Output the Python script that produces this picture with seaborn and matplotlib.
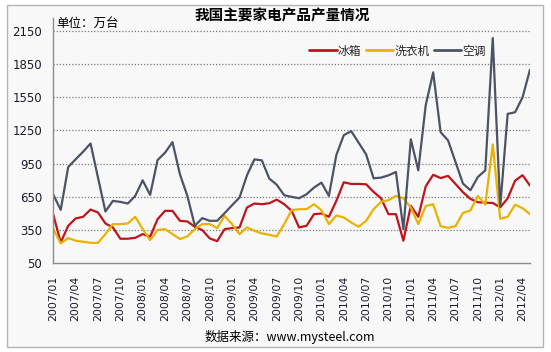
import numpy as np
import pandas as pd
import seaborn as sns
import matplotlib.pyplot as plt
from matplotlib.patches import Rectangle
from matplotlib.lines import Line2D

# monthly output, 2007/01 - 2012/05 (unit: 10k units)
fridge = [488, 239, 389, 455, 470, 536, 509, 410, 374, 272, 272, 280,
          314, 290, 449, 524, 524, 434, 428, 380, 350, 275, 250, 359,
          368, 374, 554, 590, 584, 593, 625, 584, 524, 374, 389, 494,
          500, 470, 614, 782, 767, 767, 764, 695, 638, 494, 494, 254,
          569, 470, 745, 850, 820, 840, 767, 692, 632, 602, 598, 595,
          556, 636, 797, 846, 752]
washer = [359, 230, 278, 254, 245, 235, 235, 314, 404, 404, 410, 470,
          359, 260, 350, 359, 314, 269, 293, 359, 404, 404, 368, 479,
          404, 314, 374, 344, 320, 308, 292, 404, 530, 539, 539, 584,
          530, 404, 482, 464, 419, 380, 434, 539, 605, 620, 659, 638,
          554, 404, 567, 584, 385, 370, 386, 505, 527, 658, 580, 1124,
          452, 470, 580, 548, 494]
aircon = [670, 533, 920, 990, 1058, 1133, 824, 518, 614, 605, 590, 659,
          800, 668, 983, 1049, 1145, 854, 659, 389, 458, 434, 434, 503,
          575, 644, 845, 989, 980, 815, 760, 665, 650, 638, 674, 734,
          779, 659, 1028, 1208, 1244, 1139, 1034, 818, 824, 845, 875, 359,
          1170, 890, 1478, 1775, 1235, 1160, 965, 770, 710, 830, 890, 2085,
          560, 1400, 1415, 1550, 1800]

months = [f"{2007 + i // 12}/{i % 12 + 1:02d}" for i in range(len(fridge))]
series_names = ['冰箱', '洗衣机', '空调']
colors = {'冰箱': '#c0141c', '洗衣机': '#eab200', '空调': '#4b5366'}
y_ticks = [50, 350, 650, 950, 1250, 1550, 1850, 2150]

df = pd.DataFrame({
    'idx': np.tile(np.arange(len(months)), 3),
    'value': fridge + washer + aircon,
    'name': np.repeat(series_names, len(months)),
})

sns.set_style('white')
plt.rcParams['font.family'] = ['Noto Sans CJK SC', 'DejaVu Sans']

fig = plt.figure(figsize=(5.51, 3.52), dpi=100)
fig.patch.set_facecolor('white')
fig.patches.append(Rectangle((7 / 551, 5 / 352), 536 / 551, 342 / 352,
                             transform=fig.transFigure, facecolor='#f8f8f8',
                             edgecolor='#b4b4b4', linewidth=1, zorder=-10))

ax = fig.add_axes([53.3 / 551, 1 - 263.3 / 352, (530 - 53.3) / 551, (263.3 - 18) / 352])
ax.set_facecolor('none')

sns.lineplot(data=df, x='idx', y='value', hue='name', hue_order=series_names,
             palette=colors, linewidth=1.6, ax=ax, legend=False)

ax.set_xlim(0, len(months) - 1)
ax.set_ylim(50, 2150 + (30.9 - 18) * 9.03)
ax.set_yticks(y_ticks)
ax.set_yticklabels([str(v) for v in y_ticks], fontsize=8.5, color='#1a1a2e',
                   family='DejaVu Sans')
tick_pos = list(range(0, len(months), 3))
ax.set_xticks(tick_pos)
ax.set_xticklabels([months[i] for i in tick_pos], rotation=90, fontsize=7.8,
                   color='#1a1a2e', family='DejaVu Sans')
ax.set_xlabel('')
ax.set_ylabel('')
ax.tick_params(axis='both', direction='out', length=4, width=1, color='#808080', pad=2)
ax.tick_params(axis='x', pad=5)
ax.tick_params(axis='y', pad=4)

for v in y_ticks[1:]:
    ax.axhline(v, color='#7a7a7a', linestyle=(0, (1, 1.5)), linewidth=0.9, zorder=0)

for side in ['top', 'right']:
    ax.spines[side].set_visible(False)
for side in ['left', 'bottom']:
    ax.spines[side].set_color('#8c8c8c')
    ax.spines[side].set_linewidth(1)

handles = [Line2D([0], [0], color=colors[n], linewidth=2) for n in series_names]
ax.legend(handles, series_names, loc='center right', bbox_to_anchor=(492 / 551, 1 - 51 / 352),
          bbox_transform=fig.transFigure, ncol=3, frameon=False, fontsize=8.5,
          handlelength=2.3, handletextpad=0.1, columnspacing=0.4, borderpad=0)

fig.text(282 / 551, 1 - 16 / 352, '我国主要家电产品产量情况', ha='center', va='center',
         fontsize=10.5, fontweight='bold', color='black')
fig.text(56 / 551, 1 - 23 / 352, '单位：万台', ha='left', va='center', fontsize=9, color='black')
fig.text(290 / 551, 1 - 337 / 352, '数据来源：www.mysteel.com', ha='center', va='center',
         fontsize=9, color='black')

plt.savefig('out.png', dpi=100, facecolor=fig.get_facecolor())
